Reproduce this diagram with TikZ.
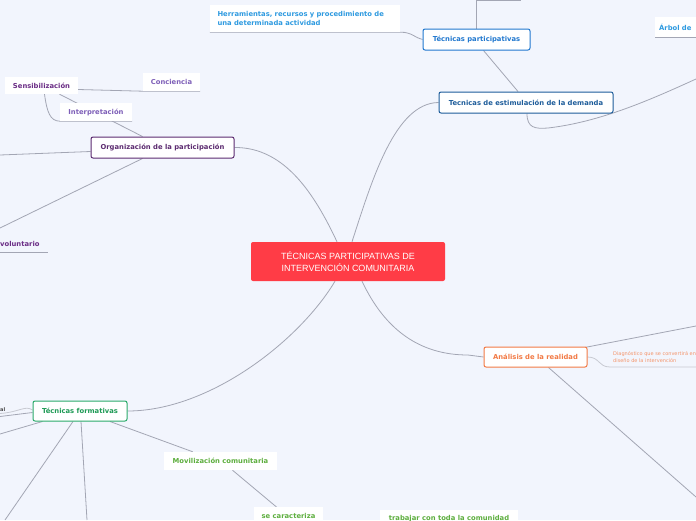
\documentclass[tikz,border=0pt]{standalone}
\usepackage{fontspec}
\setmainfont{DejaVu Sans}
\newfontfamily\arialf{Liberation Sans}
\usetikzlibrary{calc}
\pgfdeclarelayer{background}
\pgfsetlayers{background,main}
\definecolor{bgc}{HTML}{F2F5FD}
\definecolor{linec}{HTML}{A3A6B4}
\definecolor{redc}{HTML}{FF3C46}
\definecolor{bluec}{HTML}{2178CF}
\definecolor{lblue}{HTML}{2E9AE0}
\definecolor{dblue}{HTML}{1D5C9A}
\definecolor{purc}{HTML}{5C2B70}
\definecolor{purb}{HTML}{6A2C85}
\definecolor{lpur}{HTML}{7E5FB8}
\definecolor{greenb}{HTML}{2BAA6A}
\definecolor{greent}{HTML}{1E9A55}
\definecolor{lgreen}{HTML}{5DAE3E}
\definecolor{orc}{HTML}{F27A45}
\definecolor{lorc}{HTML}{F4946A}
\tikzset{
  conn/.style={draw=linec, line width=0.8pt},
  lconn/.style={draw=linec!60, line width=0.8pt},
  framebox/.style={fill=white, rounded corners=2pt, line width=1pt, inner sep=0pt,
    font=\fontsize{6.8}{8.5}\selectfont\bfseries},
  plainbox/.style={fill=white, inner sep=0pt, font=\fontsize{6.8}{8.5}\selectfont\bfseries},
}
\begin{document}
\begin{tikzpicture}[x=1pt,y=-1pt]
\useasboundingbox (0,0) rectangle (696,520);
\clip (0,0) rectangle (696,520);
\begin{pgfonlayer}{background}
\fill[bgc] (0,0) rectangle (696,520);
\end{pgfonlayer}

% nodes
\node[fill=redc, rounded corners=2pt, minimum width=194pt, minimum height=39pt, inner sep=0pt,
  text=white, align=center, font=\arialf\fontsize{9}{12}\selectfont] (central) at (348,261.5)
  {TÉCNICAS PARTICIPATIVAS DE\\INTERVENCIÓN COMUNITARIA};

\node[framebox, draw=bluec, text=bluec, minimum width=107pt, minimum height=21pt] (tp) at (476.5,39.5) {Técnicas participativas};
\node[plainbox, text=lblue, minimum width=190pt, minimum height=27pt, align=left, text width=175pt] (herr) at (305,18.5)
  {Herramientas, recursos y procedimiento de\\una determinada actividad};
\coordinate (tptop) at (476,0.5);
\coordinate (tpright) at (521,0.5);

\node[framebox, draw=dblue, text=dblue, minimum width=174pt, minimum height=21pt] (est) at (526,102.5) {Tecnicas de estimulación de la demanda};
\node[plainbox, text=lblue, minimum width=60pt, minimum height=20pt, anchor=west, text width=52pt, align=left] (arbol) at (655,27) {Árbol de};
\coordinate (estend) at (696,79);

\node[framebox, draw=purc, text=purc, minimum width=143pt, minimum height=21pt] (org) at (162.5,147.5) {Organización de la participación};
\node[plainbox, text=purb, minimum width=73pt, minimum height=17pt] (sens) at (41.5,85.5) {Sensibilización};
\node[plainbox, text=lpur, minimum width=57pt, minimum height=18pt] (conc) at (171.5,82) {Conciencia};
\node[plainbox, text=lpur, minimum width=72pt, minimum height=18pt] (interp) at (96,112) {Interpretación};
\node[inner sep=0pt, text=purb, anchor=west, font=\fontsize{6.8}{8.5}\selectfont\bfseries] (vol) at (0,244) {voluntario};
\coordinate (volA) at (0,252);
\coordinate (volB) at (48,252);
\coordinate (orgL) at (0,155);
\coordinate (orgD) at (0,228);

\node[framebox, draw=greenb, text=greent, minimum width=94pt, minimum height=20pt] (tf) at (80,411) {Técnicas formativas};
\node[inner sep=0pt, text=black!70, anchor=west, font=\fontsize{5}{6}\selectfont\bfseries] (al) at (0,409.5) {al};
\coordinate (tfL1) at (0,416.5);
\coordinate (tfL2) at (0,413.5);
\coordinate (tfL3) at (0,434);
\coordinate (tfD1) at (5,520);
\coordinate (tfD2) at (87,520);
\node[plainbox, text=lgreen, minimum width=113pt, minimum height=18pt] (mov) at (220.5,461) {Movilización comunitaria};
\node[plainbox, text=lgreen, minimum width=69pt, minimum height=17pt, anchor=north] (secar) at (288.5,507) {se caracteriza};
\node[plainbox, text=lgreen, minimum width=138pt, minimum height=16pt, anchor=north] (trab) at (449,510) {trabajar con toda la comunidad};

\node[framebox, draw=orc, text=orc, minimum width=103pt, minimum height=20pt] (anal) at (535.5,357) {Análisis de la realidad};
\node[inner sep=0pt, text=lorc, anchor=north west, align=left, font=\fontsize{5}{7.5}\selectfont] (diag) at (613,351)
  {Diagnóstico que se convertirá en\\diseño de la intervención};
\coordinate (anRT) at (696,326);
\coordinate (anRB) at (696,497);
\coordinate (diagEnd) at (696,367);

% connectors
\begin{pgfonlayer}{background}
\draw[conn] (tp.north) ++(-0.5,0) -- (tptop) -- (tpright);
\draw[conn] (herr.south west) -- (herr.south east) .. controls (412,32) and (415,38) .. (tp.west);
\draw[conn] ($(tp.south)+(7,0)$) -- ($(est.north)+(-8,0)$);
\draw[conn] ($(central.north)+(4,0)$) .. controls (372,180) and (395,103) .. (est.west);
\draw[conn] ($(est.south)+(1,0)$) .. controls (527,128) and (535,129) .. (548,128)
   .. controls (600,122) and (650,100) .. (estend);
\draw[conn] (arbol.south west) -- (arbol.south east);
\draw[conn] (org.east) .. controls (285,147) and (315,195) .. ($(central.north)+(-11,0)$);
\draw[conn] ($(org.north)+(-20,0)$) -- ($(sens.south)+(18,0)$);
\draw[conn] ($(sens.east)+(0,4)$) -- (conc.south west) -- (conc.south east);
\draw[conn] ($(sens.south)+(3,0)$) .. controls (47,112) and (50,121) .. (interp.south west) -- (interp.south east);
\draw[conn] ($(org.west)+(0,4)$) -- (orgL);
\draw[conn] ($(org.south)+(-20,0)$) -- (orgD);
\draw[conn] (volA) -- (volB);
\draw[conn] (tf.east) .. controls (210,411) and (300,340) .. ($(central.south)+(-13,0)$);
\draw[conn] ($(tf.west)+(0,1.5)$) -- (tfL1);
\draw[lconn] ($(tf.west)+(0,-1)$) .. controls (25,405) and (20,412) .. (tfL2);
\draw[conn] ($(tf.south west)+(10,0)$) -- (tfL3);
\draw[conn] ($(tf.south)+(-7,0)$) -- (tfD1);
\draw[conn] ($(tf.south)+(1,0)$) -- (tfD2);
\draw[conn] ($(tf.south)+(30,0)$) -- ($(mov.north west)+(29,0)$);
\draw[conn] ($(mov.south)+(12,0)$) -- ($(secar.north)+(-12,0)$);
\draw[conn] ($(central.south)+(14,0)$) .. controls (385,330) and (420,355) .. (468,355) -- (anal.west);
\draw[conn] ($(anal.north east)+(-3,1)$) -- (anRT);
\draw[lconn] (anal.east) .. controls (600,357) and (598,367) .. (610,367) -- (diagEnd);
\draw[conn] ($(anal.south)+(13,0)$) -- (anRB);
\end{pgfonlayer}
\end{tikzpicture}
\end{document}
